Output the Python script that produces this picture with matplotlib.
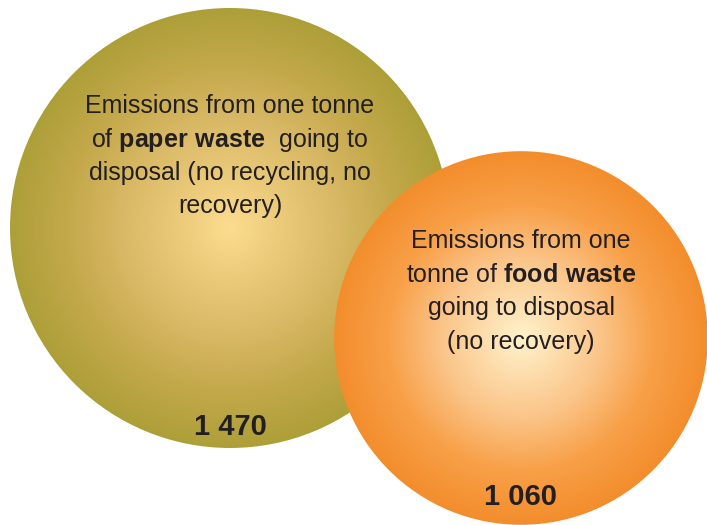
import numpy as np
import matplotlib.pyplot as plt
from matplotlib.patches import Circle
from matplotlib.colors import to_rgb

plt.rcParams['font.family'] = ['Liberation Sans', 'DejaVu Sans']
plt.rcParams['mathtext.fontset'] = 'custom'
plt.rcParams['mathtext.rm'] = 'Liberation Sans'
plt.rcParams['mathtext.bf'] = 'Liberation Sans:bold'

# emissions per tonne of waste going to disposal
values = [1470, 1060]
labels = ['1 470', '1 060']
descriptions = [
    ['Emissions from one tonne',
     r'of $\mathbf{paper\ waste}$  going to',
     'disposal (no recycling, no',
     'recovery)'],
    ['Emissions from one',
     r'tonne of $\mathbf{food\ waste}$',
     'going to disposal',
     '(no recovery)'],
]
# radial gradient stops (relative radius, colour)
grad_stops = [
    [(0.0, '#fcdc8e'), (0.5, '#d8b864'), (0.75, '#c3a84a'), (1.0, '#ad9f38')],
    [(0.0, '#fff3cc'), (0.43, '#fbc488'), (0.71, '#f8a048'), (1.0, '#f38d2c')],
]

# layout in pixel coordinates (y down)
centers = [(230, 228), (521, 338)]
scale = 220 / np.sqrt(values[0])   # circle area proportional to value
text_top = [113, 248]
number_base = [435, 505]

W, H = 707, 525
fig = plt.figure(figsize=(W / 100, H / 100), dpi=100)
ax = fig.add_axes([0, 0, 1, 1])
ax.set_xlim(0, W)
ax.set_ylim(H, 0)
ax.axis('off')

xx, yy = np.meshgrid(np.arange(W) + 0.5, np.arange(H) + 0.5)

for i, v in enumerate(values):
    cx, cy = centers[i]
    r = scale * np.sqrt(v)
    d = np.clip(np.hypot(xx - cx, yy - cy) / r, 0, 1)
    pos = [s[0] for s in grad_stops[i]]
    cols = np.array([to_rgb(s[1]) for s in grad_stops[i]])
    img = np.stack([np.interp(d, pos, cols[:, k]) for k in range(3)], axis=-1)
    im = ax.imshow(img, extent=(0, W, H, 0), zorder=i * 2, interpolation='bilinear')
    circ = Circle((cx, cy), r, transform=ax.transData, facecolor='none', edgecolor='none')
    ax.add_patch(circ)
    im.set_clip_path(circ)

    for j, line in enumerate(descriptions[i]):
        ax.text(cx, text_top[i] + j * 33.5, line, ha='center', va='baseline',
                fontsize=18, color='#231f20', zorder=i * 2 + 1)
    ax.text(cx, number_base[i], labels[i], ha='center', va='baseline',
            fontsize=21, fontweight='bold', color='#231f20', zorder=i * 2 + 1)

fig.savefig('out.png', dpi=100)
